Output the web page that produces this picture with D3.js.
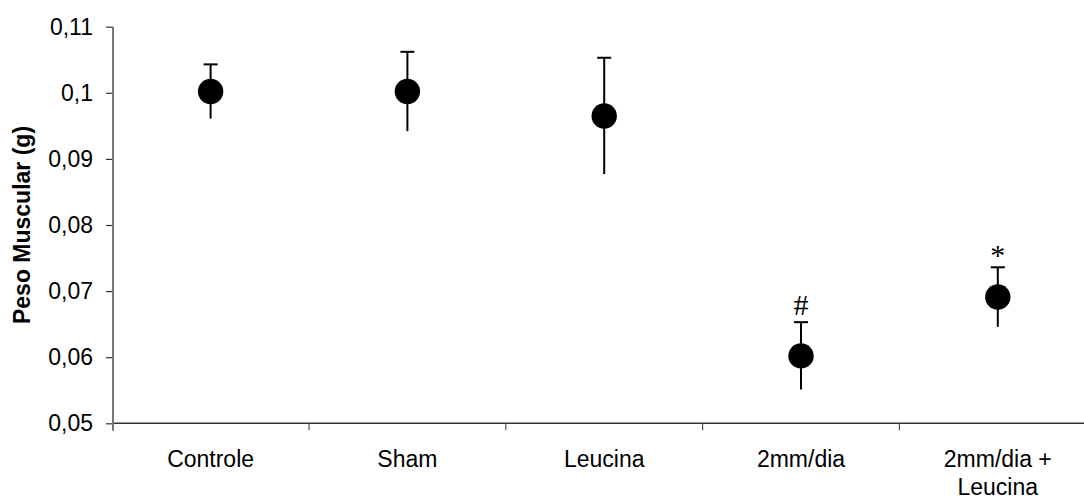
<!DOCTYPE html>
<meta charset="utf-8" />
<style>
  html,
  body {
    margin: 0;
    padding: 0;
    background: #fff;
    overflow: hidden;
  }
  #chart {
    width: 1084px;
    height: 498px;
    font-family: 'Liberation Sans', Arial, sans-serif;
  }
</style>
<script src="https://d3js.org/d3.v7.min.js"></script>

<div id="chart"></div>

<script>
  // data
  const categories = ['Controle', 'Sham', 'Leucina', '2mm/dia', '2mm/dia + Leucina'];
  const labelLines = [['Controle'], ['Sham'], ['Leucina'], ['2mm/dia'], ['2mm/dia +', 'Leucina']];
  const means = [0.1002, 0.1002, 0.0965, 0.0602, 0.0691];
  const errors = [0.0041, 0.006, 0.0088, 0.0051, 0.0045];
  const marks = ['', '', '', '#', '*'];
  const yTicks = [0.05, 0.06, 0.07, 0.08, 0.09, 0.1, 0.11];

  const data = categories.map((c, i) => ({
    name: c,
    lines: labelLines[i],
    mean: means[i],
    err: errors[i],
    mark: marks[i],
  }));

  const W = 1084,
    H = 498;
  const axisX = 113;

  const svg = d3
    .select('#chart')
    .append('svg')
    .attr('width', W)
    .attr('height', H);

  const y = d3.scaleLinear().domain([0.05, 0.11]).range([423.3, 26.7]);
  const x = d3
    .scaleBand()
    .domain(categories)
    .range([112.2, 1096.2])
    .padding(0);

  const fmt = (d) => String(+d.toFixed(2)).replace('.', ',');

  // y axis
  const yAxis = svg
    .append('g')
    .attr('transform', `translate(${axisX},0)`)
    .call(
      d3.axisLeft(y).tickValues(yTicks).tickFormat(fmt).tickSize(7).tickPadding(13),
    );
  yAxis.select('.domain').remove();
  yAxis.selectAll('.tick line').attr('stroke', '#333').attr('stroke-width', 1.2);
  yAxis
    .selectAll('.tick text')
    .attr('fill', '#000')
    .style('font-size', '23px')
    .style('font-family', "'Liberation Sans', Arial, sans-serif");

  // x axis line + boundary ticks
  const y0 = y(0.05);
  svg
    .append('line')
    .attr('x1', axisX)
    .attr('x2', W + 20)
    .attr('y1', y0)
    .attr('y2', y0)
    .attr('stroke', '#333')
    .attr('stroke-width', 1.5);

  svg
    .selectAll('.xtick')
    .data(categories.slice(1))
    .enter()
    .append('line')
    .attr('class', 'xtick')
    .attr('x1', (d) => x(d))
    .attr('x2', (d) => x(d))
    .attr('y1', y0)
    .attr('y2', y0 + 7)
    .attr('stroke', '#555')
    .attr('stroke-width', 1.2);

  svg
    .append('line')
    .attr('x1', axisX)
    .attr('x2', axisX)
    .attr('y1', y(0.11))
    .attr('y2', y0 + 7.5)
    .attr('stroke', '#777')
    .attr('stroke-width', 2);

  // category labels
  const lab = svg
    .selectAll('.xlab')
    .data(data)
    .enter()
    .append('text')
    .attr('class', 'xlab')
    .attr('text-anchor', 'middle')
    .attr('x', (d) => x(d.name) + x.bandwidth() / 2)
    .attr('y', 466.5)
    .style('font-size', '23px')
    .attr('fill', '#000');
  lab
    .selectAll('tspan')
    .data((d) => d.lines.map((l) => ({ l, cx: x(d.name) + x.bandwidth() / 2 })))
    .enter()
    .append('tspan')
    .attr('x', (t) => t.cx)
    .attr('dy', (t, i) => (i === 0 ? 0 : 28))
    .text((t) => t.l);

  // y axis title
  svg
    .append('text')
    .attr('transform', 'translate(22,225) rotate(-90)')
    .attr('text-anchor', 'middle')
    .attr('dominant-baseline', 'central')
    .style('font-size', '23px')
    .style('font-weight', 'bold')
    .text('Peso Muscular (g)');

  // error bars
  const cx = (d) => x(d.name) + x.bandwidth() / 2;
  const pts = svg.append('g');
  pts
    .selectAll('.err')
    .data(data)
    .enter()
    .append('line')
    .attr('x1', cx)
    .attr('x2', cx)
    .attr('y1', (d) => y(d.mean + d.err))
    .attr('y2', (d) => y(d.mean - d.err))
    .attr('stroke', '#000')
    .attr('stroke-width', 2);
  pts
    .selectAll('.cap')
    .data(data)
    .enter()
    .append('line')
    .attr('x1', (d) => cx(d) - 7)
    .attr('x2', (d) => cx(d) + 7)
    .attr('y1', (d) => y(d.mean + d.err))
    .attr('y2', (d) => y(d.mean + d.err))
    .attr('stroke', '#000')
    .attr('stroke-width', 2);
  pts
    .selectAll('circle')
    .data(data)
    .enter()
    .append('circle')
    .attr('cx', cx)
    .attr('cy', (d) => y(d.mean))
    .attr('r', 12.7)
    .attr('fill', '#000');

  // significance marks
  const markShift = { '#': 9, '*': 14 };
  svg
    .selectAll('.mark')
    .data(data.filter((d) => d.mark))
    .enter()
    .append('text')
    .attr('text-anchor', 'middle')
    .attr('x', cx)
    .attr('y', (d) => y(d.mean + d.err) - 16.5 + markShift[d.mark])
    .style('font-family', "'Liberation Serif', 'Times New Roman', serif")
    .style('font-size', '30px')
    .text((d) => d.mark);
</script>
